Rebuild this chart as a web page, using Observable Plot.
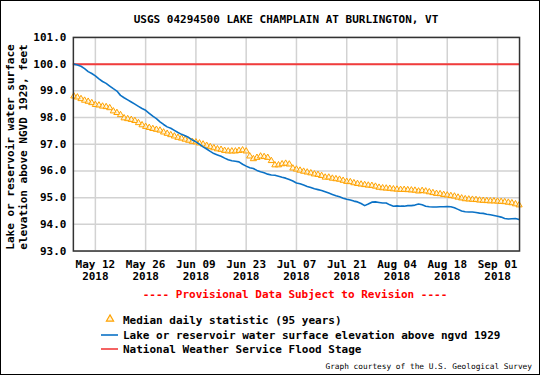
<!DOCTYPE html>
<html><head><meta charset="utf-8">
<script src="https://cdn.jsdelivr.net/npm/d3@7"></script>
<script src="https://cdn.jsdelivr.net/npm/@observablehq/plot@0.6"></script>
<style>
html,body{margin:0;padding:0;background:#fff}
#wrap{position:relative;width:540px;height:375px;box-sizing:border-box;border:1px solid #000;overflow:hidden;font-family:"DejaVu Sans Mono",monospace;font-weight:bold;font-size:11px;color:#000;background:#fff}
#chart{position:absolute;left:-1px;top:-1px}
.t{position:absolute;white-space:pre;line-height:13px}
</style></head><body>
<div id="wrap">
<div id="chart"></div>
<div class="t" id="title" style="left:285px;top:12px;transform:translateX(-50%)">USGS 04294500 LAKE CHAMPLAIN AT BURLINGTON, VT</div>
<div class="t" id="ylab" style="left:-104px;top:133px;width:240px;height:26px;text-align:center;transform:rotate(-90deg);transform-origin:center">Lake or reservoir water surface
elevation above NGVD 1929, feet</div>
<div class="t" id="prov" style="left:294px;top:287px;transform:translateX(-50%);color:#f00">---- Provisional Data Subject to Revision ----</div>
<svg id="leg" style="position:absolute;left:-1px;top:-1px" width="540" height="375"></svg>
<div class="t" style="left:122px;top:313px">Median daily statistic (95 years)</div>
<div class="t" style="left:122px;top:328px">Lake or reservoir water surface elevation above ngvd 1929</div>
<div class="t" style="left:122px;top:342px">National Weather Service Flood Stage</div>
<div class="t" style="right:7px;top:361px;font-size:7.8px;font-weight:normal;line-height:10px">Graph courtesy of the U.S. Geological Survey</div>
</div>
<script>
// ---- data ----
const startDate = "2018-05-06"; // first day of record, one value per day through 2018-09-07
const gageValues = [
100.00,99.97,99.92,99.83,99.72,99.65,99.56,99.45,99.35,99.28,99.18,99.08,98.99,98.83,98.74,98.66,98.58,98.50,98.42,98.34,98.27,98.16,98.05,97.96,97.84,97.74,
97.65,97.60,97.52,97.44,97.37,97.32,97.25,97.16,97.09,97.00,96.90,96.82,96.73,96.65,96.60,96.55,96.48,96.42,96.38,96.36,96.34,96.25,96.18,96.12,96.09,96.02,95.97,95.93,95.88,95.85,
95.84,95.80,95.76,95.73,95.68,95.62,95.55,95.52,95.47,95.42,95.38,95.33,95.30,95.27,95.22,95.17,95.12,95.07,95.03,94.98,94.94,94.91,94.87,94.84,94.78,94.70,94.76,94.83,94.84,94.82,94.80,
94.80,94.73,94.68,94.69,94.68,94.68,94.70,94.70,94.72,94.76,94.73,94.68,94.66,94.65,94.65,94.66,94.66,94.67,94.66,94.62,94.56,94.50,94.47,94.46,94.46,94.44,94.42,94.41,94.38,94.36,94.33,
94.30,94.27,94.22,94.20,94.21,94.22,94.18
];
const medianValues = [
98.80,98.76,98.70,98.64,98.60,98.55,98.48,98.46,98.42,98.40,98.36,98.24,98.18,98.10,97.98,97.95,97.92,97.88,97.80,97.72,97.66,97.62,97.58,97.55,97.52,97.45,
97.40,97.35,97.30,97.25,97.22,97.18,97.14,97.10,97.08,97.04,97.00,96.95,96.90,96.86,96.82,96.80,96.76,96.74,96.74,96.74,96.76,96.78,96.74,96.55,96.45,96.50,96.55,96.53,96.50,96.38,
96.22,96.22,96.26,96.28,96.25,96.10,96.06,96.02,95.98,95.95,95.92,95.88,95.86,95.82,95.76,95.76,95.72,95.70,95.68,95.64,95.60,95.59,95.55,95.52,95.50,95.48,95.46,95.45,95.42,95.38,95.36,
95.35,95.34,95.32,95.31,95.30,95.30,95.29,95.28,95.27,95.24,95.26,95.24,95.21,95.18,95.15,95.14,95.11,95.09,95.07,95.05,95.01,94.98,94.95,94.94,94.93,94.92,94.90,94.89,94.88,94.87,94.87,
94.86,94.85,94.84,94.82,94.80,94.76,94.72
];
const floodStage = [100.0];
const xTickDates = ["2018-05-12","2018-05-26","2018-06-09","2018-06-23","2018-07-07","2018-07-21","2018-08-04","2018-08-18","2018-09-01"];
const yTickValues = [93,94,95,96,97,98,99,100,101];
const xDomain = ["2018-05-05T21:00Z","2018-09-07T03:00Z"];

// ---- build ----
const parse = d3.isoParse;
const d0 = parse(startDate + "T00:00Z");
const day = i => d3.utcDay.offset(d0, i);
const gage = gageValues.map((v, i) => ({date: day(i), value: v}));
const median = medianValues.map((v, i) => ({date: day(i), value: v}));
const xt = xTickDates.map(s => parse(s + "T00:00Z"));
const fmt = d => d3.utcFormat("%b %d")(d) + "\n" + d3.utcFormat("%Y")(d);

const BLUE = "#0b72c6", ORANGE = "#ffa200", RED = "#f23c3c", GRID = "#d2d2d2";

const chart = Plot.plot({
  width: 540, height: 375,
  marginLeft: 73, marginRight: 20, marginTop: 37, marginBottom: 124,
  style: {fontFamily: "DejaVu Sans Mono", fontWeight: "bold", fontSize: "11px", color: "#000", background: "transparent", overflow: "visible"},
  x: {type: "utc", domain: xDomain.map(d => parse(d)), label: null},
  y: {domain: [93, 101], label: null},
  marks: [
    Plot.gridX(xt, {stroke: GRID, strokeOpacity: 1, strokeWidth: 1.5}),
    Plot.gridY(yTickValues, {stroke: GRID, strokeOpacity: 1, strokeWidth: 1.5}),
    Plot.ruleY(floodStage, {stroke: RED, strokeWidth: 2}),
    Plot.dot(median, {x: "date", y: "value", symbol: "triangle", r: 2.3, stroke: ORANGE, strokeWidth: 1, fill: "#fff3d6", fillOpacity: 0.6}),
    Plot.line(gage, {x: "date", y: "value", stroke: BLUE, strokeWidth: 1.6}),
    Plot.frame({stroke: "#333", strokeWidth: 1.5}),
    Plot.axisX(xt, {tickSize: 0, tickPadding: 8, tickFormat: fmt, lineHeight: 1.1, label: null, fill: "#000"}),
    Plot.axisY(yTickValues, {tickSize: 0, tickPadding: 7, tickFormat: d => d.toFixed(1), label: null, fill: "#000"})
  ]
});
document.getElementById("chart").appendChild(chart);

// legend symbols
const leg = d3.select("#leg");
leg.append("path").attr("d", d3.symbol(d3.symbolTriangle, 22)()).attr("transform", "translate(110,319)")
  .attr("fill", "#fff3d6").attr("stroke", ORANGE).attr("stroke-width", 1.2);
leg.append("line").attr("x1", 101).attr("x2", 118).attr("y1", 335).attr("y2", 335).attr("stroke", BLUE).attr("stroke-width", 1.6);
leg.append("line").attr("x1", 101).attr("x2", 118).attr("y1", 349).attr("y2", 349).attr("stroke", RED).attr("stroke-width", 1.6);
</script>
</body></html>
